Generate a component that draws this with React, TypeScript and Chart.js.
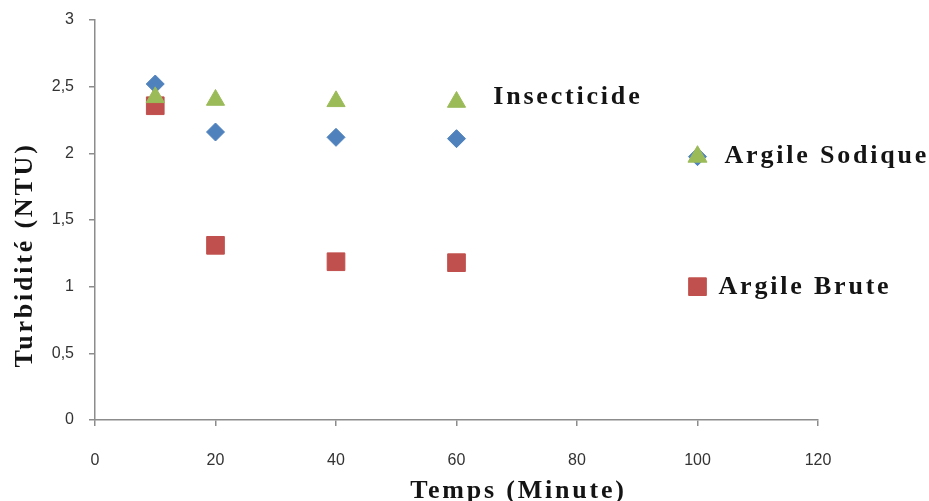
import React, { useEffect, useRef } from "react";
import { Chart, registerables } from "chart.js";

Chart.register(...registerables);

// ---- Data ----
const temps = [10, 20, 40, 60];
const argileSodique = [2.52, 2.16, 2.12, 2.11];
const insecticide = [2.42, 2.4, 2.39, 2.385];
const argileBrute = [2.357, 1.31, 1.187, 1.18];

const xTicks = [0, 20, 40, 60, 80, 100, 120];
const yTicks = [0, 0.5, 1, 1.5, 2, 2.5, 3];

const xTitle = "Temps (Minute)";
const yTitle = "Turbidité (NTU)";

const BLUE = "#4F81BD";
const GREEN = "#9BBB59";
const RED = "#C0504D";
const AXIS = "#8C8C8C";
const TICK_TEXT = "#333333";
const TITLE_TEXT = "#141414";

type MarkerStyle = "rectRot" | "triangle" | "rect";

// legend (free-floating labels, as in the original Excel chart)
const legendEntries: {
  label: string;
  markers: { style: MarkerStyle; color: string; r: number }[];
  at: [number, number];
  textDx: number;
  textDy: number;
}[] = [
  { label: "Insecticide", markers: [], at: [66.1, 2.42], textDx: 0, textDy: 7 },
  {
    label: "Argile Sodique",
    markers: [
      { style: "rectRot", color: BLUE, r: 9 },
      { style: "triangle", color: GREEN, r: 11 },
    ],
    at: [100, 1.975],
    textDx: 27,
    textDy: 6,
  },
  {
    label: "Argile Brute",
    markers: [{ style: "rect", color: RED, r: 12.5 }],
    at: [100, 1],
    textDx: 21,
    textDy: 7,
  },
];

function drawMarker(
  ctx: CanvasRenderingContext2D,
  style: MarkerStyle,
  x: number,
  y: number,
  r: number,
  color: string
) {
  ctx.save();
  ctx.fillStyle = color;
  ctx.strokeStyle = color;
  ctx.lineWidth = 1;
  ctx.beginPath();
  if (style === "rectRot") {
    ctx.moveTo(x, y - r);
    ctx.lineTo(x + r, y);
    ctx.lineTo(x, y + r);
    ctx.lineTo(x - r, y);
  } else if (style === "triangle") {
    const a = -Math.PI / 2;
    for (let i = 0; i < 3; i++) {
      const ang = a + (i * 2 * Math.PI) / 3;
      const px = x + Math.cos(ang) * r;
      const py = y + Math.sin(ang) * r;
      if (i === 0) ctx.moveTo(px, py);
      else ctx.lineTo(px, py);
    }
  } else {
    const s = r * Math.SQRT1_2;
    ctx.rect(x - s, y - s, 2 * s, 2 * s);
  }
  ctx.closePath();
  ctx.fill();
  ctx.stroke();
  ctx.restore();
}

const overlayPlugin = {
  id: "overlay",
  afterDraw(chart: any) {
    const ctx: CanvasRenderingContext2D = chart.ctx;
    const xs = chart.scales.x;
    const ys = chart.scales.y;
    const area = chart.chartArea;
    ctx.save();
    ctx.font = 'bold 26px "Liberation Serif", "Times New Roman", serif';
    (ctx as any).letterSpacing = "2.8px";
    ctx.fillStyle = TITLE_TEXT;
    ctx.textBaseline = "alphabetic";
    ctx.textAlign = "left";

    // legend
    for (const e of legendEntries) {
      const px = xs.getPixelForValue(e.at[0]);
      const py = ys.getPixelForValue(e.at[1]);
      for (const m of e.markers) drawMarker(ctx, m.style, px, py, m.r, m.color);
      ctx.fillText(e.label, px + e.textDx, py + e.textDy);
    }

    // x axis title
    ctx.textAlign = "center";
    const cx = (area.left + area.right) / 2 + 62;
    ctx.fillText(xTitle, cx, chart.height - 3);

    // y axis title
    ctx.save();
    const cy = (area.top + area.bottom) / 2 + 35;
    ctx.translate(32, cy);
    ctx.rotate(-Math.PI / 2);
    ctx.fillText(yTitle, 0, 0);
    ctx.restore();

    ctx.restore();
  },
};

const fmt = (v: number) => String(v).replace(".", ",");

export default function App() {
  const ref = useRef<HTMLCanvasElement | null>(null);

  useEffect(() => {
    if (!ref.current) return;
    const toPts = (ys: number[]) => temps.map((t, i) => ({ x: t, y: ys[i] }));
    const tickFont = {
      family: '"Liberation Sans", Arial, sans-serif',
      size: 16,
    };
    const chart = new Chart(ref.current, {
      type: "scatter",
      data: {
        datasets: [
          {
            label: "Insecticide",
            data: toPts(insecticide),
            pointStyle: "triangle",
            pointRadius: 10.5,
            pointHoverRadius: 10.5,
            backgroundColor: GREEN,
            borderColor: GREEN,
            borderWidth: 1,
          },
          {
            label: "Argile Brute",
            data: toPts(argileBrute),
            pointStyle: "rect",
            pointRadius: 12.5,
            pointHoverRadius: 12.5,
            backgroundColor: RED,
            borderColor: RED,
            borderWidth: 1,
          },
          {
            label: "Argile Sodique",
            data: toPts(argileSodique),
            pointStyle: "rectRot",
            pointRadius: 9,
            pointHoverRadius: 9,
            backgroundColor: BLUE,
            borderColor: BLUE,
            borderWidth: 1,
          },
        ],
      },
      options: {
        animation: false,
        responsive: false,
        maintainAspectRatio: false,
        devicePixelRatio: 1,
        layout: { padding: { top: 20, right: 111, left: 0, bottom: 0 } },
        plugins: {
          legend: { display: false },
          tooltip: { enabled: false },
          title: { display: false },
        },
        scales: {
          x: {
            type: "linear",
            min: 0,
            max: 120,
            afterBuildTicks: (s: any) => {
              s.ticks = xTicks.map((v) => ({ value: v }));
            },
            afterFit: (s: any) => {
              s.height = 81;
              s.paddingLeft = 0;
              s.paddingRight = 0;
            },
            ticks: {
              font: tickFont,
              color: TICK_TEXT,
              padding: 25,
              maxRotation: 0,
              callback: (v: any) => fmt(Number(v)),
            },
            grid: {
              drawOnChartArea: false,
              drawTicks: true,
              tickLength: 6,
              color: AXIS,
              lineWidth: 1.5,
            },
            border: { display: true, color: AXIS, width: 1.5 },
          },
          y: {
            type: "linear",
            min: 0,
            max: 3,
            afterBuildTicks: (s: any) => {
              s.ticks = yTicks.map((v) => ({ value: v }));
            },
            afterFit: (s: any) => {
              s.width = 95;
              s.paddingTop = 0;
              s.paddingBottom = 0;
            },
            ticks: {
              font: tickFont,
              color: TICK_TEXT,
              padding: 15,
              callback: (v: any) => fmt(Number(v)),
            },
            grid: {
              drawOnChartArea: false,
              drawTicks: true,
              tickLength: 6,
              color: AXIS,
              lineWidth: 1.5,
            },
            border: { display: true, color: AXIS, width: 1.5 },
          },
        },
      },
      plugins: [overlayPlugin],
    });
    return () => chart.destroy();
  }, []);

  return (
    <div
      style={{
        position: "absolute",
        left: 0,
        top: 0,
        width: 929,
        height: 501,
        background: "#ffffff",
        overflow: "hidden",
      }}
    >
      <canvas ref={ref} width={929} height={501} style={{ display: "block" }} />
    </div>
  );
}
